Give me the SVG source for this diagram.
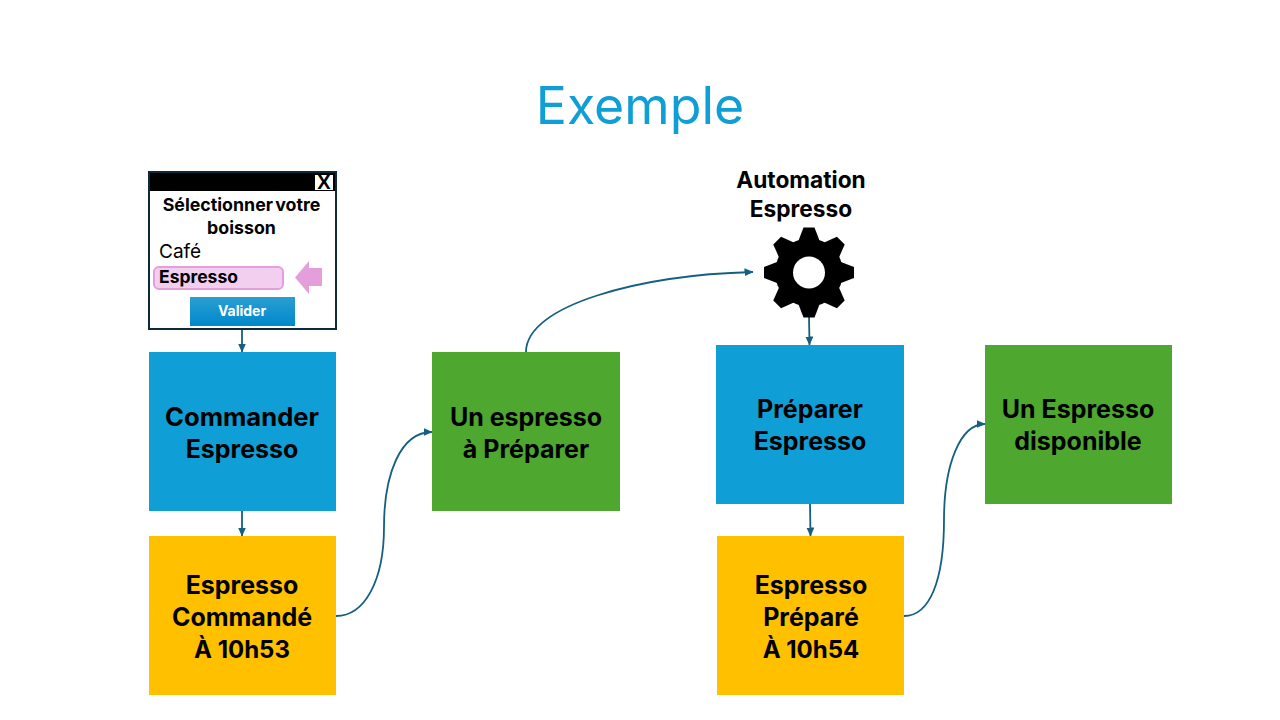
<svg xmlns="http://www.w3.org/2000/svg" xmlns:xlink="http://www.w3.org/1999/xlink" width="1280" height="720" viewBox="0 0 1280 720">
<style>
text{font-family:Inter,"Liberation Sans",sans-serif;text-anchor:middle}
.lbl{font-size:25px;font-weight:700;fill:#000}
.lbl2{font-size:22.700px}
.wide{font-size:25.600px}
.time{font-size:24px}
.c{fill:none;stroke:#156082;stroke-width:1.8;marker-end:url(#a)}
.blue{fill:#0f9ed5}.green{fill:#4ea72e}.amber{fill:#ffc000}
</style>
<defs>
<marker id="a" markerWidth="10" markerHeight="8" refX="8.500" refY="4" orient="auto" markerUnits="userSpaceOnUse"><path d="M0 0L9 4L0 8z" fill="#156082"/></marker>
<linearGradient id="v" x1="0" y1="0" x2="0" y2="1"><stop offset="0" stop-color="#2a9fd0"/><stop offset="1" stop-color="#0088cc"/></linearGradient>
<path id="t" d="M-12 -28L-5.500 -45H5.500L12 -28z"/>
</defs>
<rect width="1280" height="720" fill="#fff"/>
<text id="title" x="640" y="124" font-size="51.800" fill="#0f9ed5">Exemple</text>
<g id="connectors">
<path class="c" d="M242 329V352"/>
<path class="c" d="M242 511V536"/>
<path class="c" d="M336 616C365 616 384 580 384 527C384 475 400 432 432 432"/>
<path class="c" d="M526 352C526 305 640 275 753 272"/>
<path class="c" d="M809 317L809.500 345"/>
<path class="c" d="M810 504L810.500 536"/>
<path class="c" d="M904 616C930 616 944 580 944 520C944 465 960 424 985 424"/>
</g>
<g id="window">
<rect x="149" y="172" width="187" height="157" fill="#fff" stroke="#0b2a3a" stroke-width="2"/>
<rect x="150" y="173" width="185" height="18" fill="#000"/>
<rect x="315" y="175" width="18" height="15" fill="#fff"/>
<text x="324" y="189" font-size="20" font-weight="700" fill="#000" style="font-family:'Liberation Sans',sans-serif">X</text>
<text x="241.500" y="210.500" font-size="17.800" font-weight="700" word-spacing="-2">Sélectionner votre</text>
<text x="241.500" y="234" font-size="17.800" font-weight="700">boisson</text>
<text x="159" y="258" font-size="19" style="text-anchor:start">Café</text>
<rect x="154" y="267" width="129" height="22" rx="5" fill="#f2ceef" stroke="#e59edc" stroke-width="2"/>
<text x="159" y="282.500" font-size="17.500" font-weight="700" style="text-anchor:start">Espresso</text>
<path d="M295 277.500L309 261V268H322V286H309V294z" fill="#e59edc"/>
<rect x="190" y="297" width="105" height="29" fill="url(#v)"/>
<text x="242" y="316" font-size="14" font-weight="700" fill="#fff">Valider</text>
</g>
<g id="n1"><rect class="blue" x="149" y="352" width="187" height="159"/><text class="lbl wide" x="242" y="425.500">Commander</text><text class="lbl" x="242" y="457.500">Espresso</text></g>
<g id="n2"><rect class="amber" x="149" y="536" width="187" height="159"/><text class="lbl" x="242" y="593.500">Espresso</text><text class="lbl" x="242" y="625.500">Commandé</text><text class="lbl time" x="242" y="657.500">À 10h53</text></g>
<g id="n3"><rect class="green" x="432" y="352" width="188" height="159"/><text class="lbl" x="526" y="425.500">Un espresso</text><text class="lbl" x="526" y="457.500">à Préparer</text></g>
<g id="gear" transform="translate(809 272.500)">
<circle r="34" fill="#000"/>
<use xlink:href="#t" href="#t"/>
<use xlink:href="#t" href="#t" transform="rotate(45)"/>
<use xlink:href="#t" href="#t" transform="rotate(90)"/>
<use xlink:href="#t" href="#t" transform="rotate(135)"/>
<use xlink:href="#t" href="#t" transform="rotate(180)"/>
<use xlink:href="#t" href="#t" transform="rotate(225)"/>
<use xlink:href="#t" href="#t" transform="rotate(270)"/>
<use xlink:href="#t" href="#t" transform="rotate(315)"/>
<circle r="16" fill="#fff"/>
</g>
<g id="automation"><text class="lbl lbl2" x="801" y="187.500">Automation</text><text class="lbl lbl2" x="801" y="216.500">Espresso</text></g>
<g id="n4"><rect class="blue" x="716" y="345" width="188" height="159"/><text class="lbl" x="810" y="417.500">Préparer</text><text class="lbl" x="810" y="449.500">Espresso</text></g>
<g id="n5"><rect class="amber" x="717" y="536" width="187" height="159"/><text class="lbl" x="811" y="593.500">Espresso</text><text class="lbl" x="811" y="625.500">Préparé</text><text class="lbl time" x="811" y="657.500">À 10h54</text></g>
<g id="n6"><rect class="green" x="985" y="345" width="187" height="159"/><text class="lbl" x="1078" y="417.500">Un Espresso</text><text class="lbl" x="1078" y="449.500">disponible</text></g>
</svg>
